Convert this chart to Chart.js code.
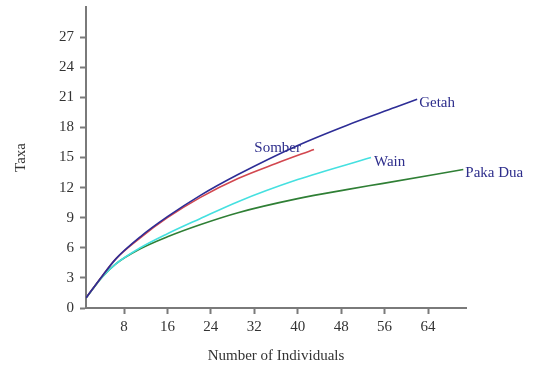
<!DOCTYPE html>
<html>
<head>
<meta charset="utf-8">
<script src="https://cdn.jsdelivr.net/npm/chart.js@4/dist/chart.umd.min.js"></script>
<style>
  html, body { margin: 0; padding: 0; background: #ffffff; }
  #wrap { width: 535px; height: 365px; }
</style>
</head>
<body>
<div id="wrap"><canvas id="rarefactionChart"></canvas></div>
<script>
// Rarefaction curves (individuals vs taxa)
const siteNames = ['Getah', 'Somber', 'Wain', 'Paka Dua'];

const getahN = [1, 4, 6.5, 11, 16, 22, 29, 40, 49, 58, 62];
const getahTaxa = [1, 3.2, 4.9, 7.1, 9.1, 11.2, 13.3, 16.2, 18.2, 20.0, 20.8];

const somberN = [1, 4, 6.5, 11, 16, 22, 29, 36, 43];
const somberTaxa = [1, 3.2, 4.9, 7.0, 9.0, 11.0, 12.9, 14.4, 15.8];

const wainN = [1, 4, 6.5, 11, 16, 22, 29, 40, 53.5];
const wainTaxa = [1, 3.1, 4.4, 6.0, 7.4, 8.9, 10.6, 12.8, 15.0];

const pakaDuaN = [1, 4, 6.5, 11, 16, 22, 29, 40, 49, 55.5, 70.5];
const pakaDuaTaxa = [1, 3.1, 4.4, 5.9, 7.1, 8.3, 9.5, 10.9, 11.8, 12.4, 13.8];

const xTickValues = [8, 16, 24, 32, 40, 48, 56, 64];
const yTickValues = [0, 3, 6, 9, 12, 15, 18, 21, 24, 27];

const lineColors = ['#2d2d96', '#d2474f', '#45e0e0', '#2f7f35'];

function toPoints(xs, ys) {
    return xs.map((x, i) => ({ x: x, y: ys[i] }));
}

// end labels next to each curve
const endLabels = {
    id: 'endLabels',
    afterDatasetsDraw(chart) {
        const ctx = chart.ctx;
        ctx.save();
        ctx.font = '15px "Liberation Serif"';
        ctx.fillStyle = '#2e2e8c';
        ctx.textBaseline = 'middle';
        chart.data.datasets.forEach((ds, i) => {
            const meta = chart.getDatasetMeta(i);
            const last = meta.data[meta.data.length - 1];
            const o = ds.labelOffset;
            ctx.textAlign = o.align;
            ctx.fillText(ds.label, last.x + o.dx, last.y + o.dy);
        });
        ctx.restore();
    }
};

function initChart() {
    const canvas = document.getElementById('rarefactionChart');
    const ctx = canvas.getContext('2d');

    const series = [
        [getahN, getahTaxa, { align: 'left', dx: 2, dy: 4 }],
        [somberN, somberTaxa, { align: 'right', dx: -13, dy: -1 }],
        [wainN, wainTaxa, { align: 'left', dx: 3, dy: 5 }],
        [pakaDuaN, pakaDuaTaxa, { align: 'left', dx: 2, dy: 4 }]
    ];

    new Chart(ctx, {
        type: 'scatter',
        data: {
            datasets: series.map((s, i) => ({
                label: siteNames[i],
                data: toPoints(s[0], s[1]),
                showLine: true,
                borderColor: lineColors[i],
                borderWidth: 1.6,
                pointRadius: 0,
                cubicInterpolationMode: 'monotone',
                labelOffset: s[2]
            }))
        },
        options: {
            responsive: true,
            maintainAspectRatio: false,
            animation: false,
            layout: { padding: { left: 10, right: 69, top: 7, bottom: 0 } },
            plugins: {
                legend: { display: false },
                tooltip: { enabled: false }
            },
            scales: {
                x: {
                    type: 'linear',
                    min: 1,
                    max: 71,
                    afterBuildTicks: (scale) => {
                        scale.ticks = xTickValues.map(v => ({ value: v }));
                    },
                    afterFit: (scale) => {
                        scale.height = 57;
                        scale.paddingLeft = 0;
                        scale.paddingRight = 0;
                    },
                    border: { display: true, color: '#7a7a7a', width: 2 },
                    grid: { drawOnChartArea: false, drawTicks: true, tickLength: 6, color: '#7a7a7a', tickWidth: 2 },
                    ticks: {
                        color: '#333333',
                        padding: 4,
                        maxRotation: 0,
                        font: { family: 'Liberation Serif', size: 15 }
                    },
                    title: {
                        display: true,
                        text: 'Number of Individuals',
                        color: '#333333',
                        padding: { top: 0, bottom: 0 },
                        font: { family: 'Liberation Serif', size: 15 }
                    }
                },
                y: {
                    min: 0,
                    max: 30,
                    afterBuildTicks: (scale) => {
                        scale.ticks = yTickValues.map(v => ({ value: v }));
                    },
                    afterFit: (scale) => {
                        scale.width = 76;
                        scale.paddingTop = 0;
                        scale.paddingBottom = 0;
                    },
                    border: { display: true, color: '#7a7a7a', width: 2 },
                    grid: { drawOnChartArea: false, drawTicks: true, tickLength: 6, color: '#7a7a7a', tickWidth: 2 },
                    ticks: {
                        color: '#333333',
                        padding: 6,
                        font: { family: 'Liberation Serif', size: 15 }
                    },
                    title: {
                        display: true,
                        text: 'Taxa',
                        color: '#333333',
                        padding: { top: 2, bottom: 0 },
                        font: { family: 'Liberation Serif', size: 15 }
                    }
                }
            }
        },
        plugins: [endLabels]
    });
}

window.addEventListener('load', () => {
    initChart();
});
</script>
</body>
</html>
